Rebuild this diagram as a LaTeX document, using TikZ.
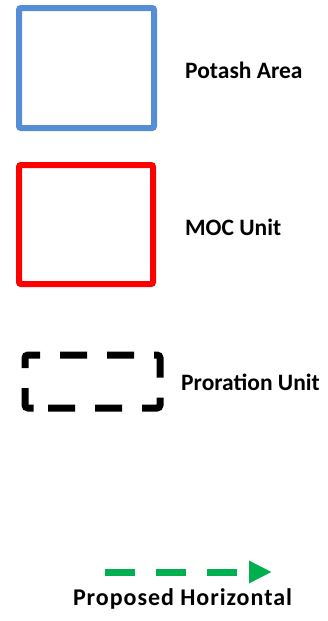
\documentclass[tikz,border=0pt]{standalone}
\usepackage{fontspec}
\setmainfont{Carlito}
\newfontfamily\widefont[LetterSpace=4]{Carlito}
\usetikzlibrary{arrows.meta}
\definecolor{potblue}{HTML}{558ED5}
\definecolor{mocred}{HTML}{FF0000}
\definecolor{horgreen}{HTML}{00B050}
\tikzset{
  lbl/.style={font=\fontsize{23.5}{28}\selectfont\bfseries, anchor=west, inner sep=0pt},
  legbox/.style={line width=6pt, rounded corners=2pt},
}
\begin{document}
\begin{tikzpicture}[x=1pt,y=-1pt]
\useasboundingbox (0,0) rectangle (327,621);
% Potash Area
\draw[legbox, potblue] (19,8) rectangle (154,128);
\node[lbl] (pot) at (185,70) {Potash Area};
% MOC Unit
\draw[legbox, mocred] (19,165) rectangle (153,284);
\node[lbl] (moc) at (185,227) {MOC Unit};
% Proration Unit
\draw[line width=7pt, black, rounded corners=3pt, dash pattern=on 27pt off 20pt, dash phase=37pt]
  (35,408) -- (160,408) -- (160,355) -- (25,355) -- (25,408) -- cycle;
\node[lbl] (pro) at (181,382) {Proration Unit};
% Proposed Horizontal
\coordinate (hs) at (105,572);
\coordinate (he) at (272,572);
\draw[horgreen, line width=7pt, dash pattern=on 30pt off 21pt,
  -{Triangle[length=23pt,width=21pt]}] (hs) -- (he);
\node[lbl, font=\fontsize{24}{28}\selectfont\widefont\bfseries, anchor=center] (hor) at (182.5,599) {Proposed Horizontal};
\end{tikzpicture}
\end{document}
